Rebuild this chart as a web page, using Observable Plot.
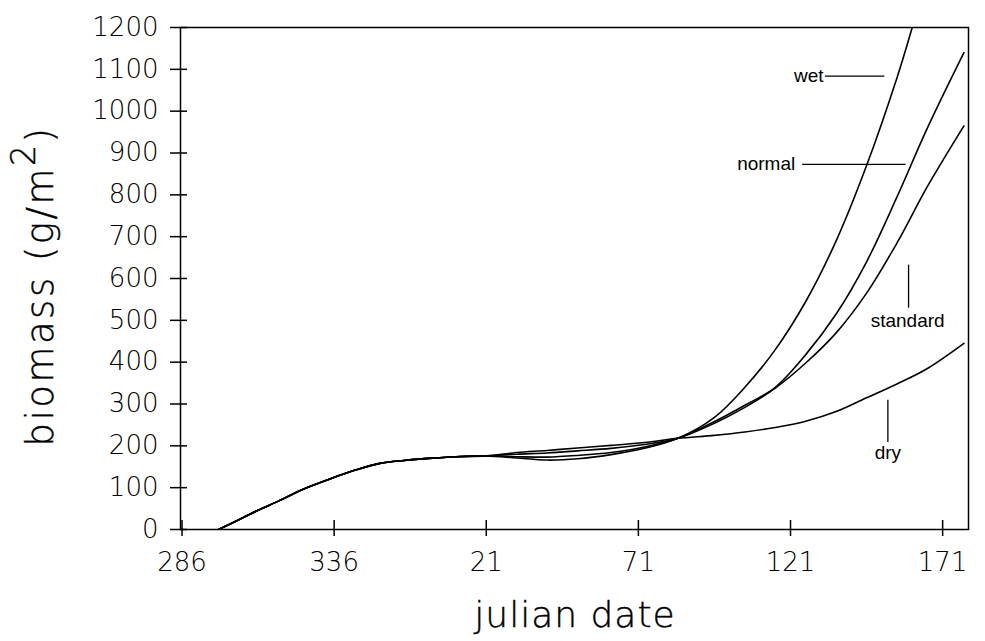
<!DOCTYPE html>
<html><head><meta charset="utf-8">
<script src="https://cdn.jsdelivr.net/npm/d3@7"></script>
<script src="https://cdn.jsdelivr.net/npm/@observablehq/plot@0.6"></script>
<style>
body{margin:0;background:#fff;}
#chart svg{display:block;}
</style></head><body><div id="chart"></div>
<script>
// julian date -> days since julian 286 (the season runs across the new year)
const START_JULIAN = 286, YEAR_DAYS = 365;
const dayIndex = j => (j - START_JULIAN + YEAR_DAYS) % YEAR_DAYS;

// sampling dates (julian)
const julian = [298, 306, 311, 318, 326, 335, 343, 351, 359, 2, 11, 21, 31, 41, 51, 62, 73, 84, 96, 106, 116, 126, 136, 146, 156, 166, 178];
const wetJulian = [298, 306, 311, 318, 326, 335, 343, 351, 359, 2, 11, 21, 31, 41, 51, 62, 73, 84, 96, 106, 116, 126, 136, 146, 156, 161];

// biomass (g/m2) per scenario
const dry      = [0, 28, 46, 69, 97, 122, 142, 158, 165, 170, 174, 176, 184, 189, 195, 201, 208, 218, 225, 233, 244, 259, 282, 315, 348, 385, 445];
const standard = [0, 28, 46, 69, 97, 122, 142, 158, 165, 170, 174, 176, 180, 183, 188, 194, 203, 218, 254, 292, 338, 398, 470, 565, 685, 820, 965];
const normal   = [0, 28, 46, 69, 97, 122, 142, 158, 165, 170, 174, 176, 174, 173, 177, 184, 197, 218, 258, 297, 340, 418, 515, 640, 795, 960, 1140];
const wet      = [0, 28, 46, 69, 97, 122, 142, 158, 165, 170, 174, 176, 171, 166, 169, 179, 194, 218, 268, 340, 430, 545, 690, 870, 1080, 1200];

// axes
const yTicks = [0, 100, 200, 300, 400, 500, 600, 700, 800, 900, 1000, 1100, 1200];
const xTickJulian = [286, 336, 21, 71, 121, 171];
const xTickLabels = ["286", "336", "21", "71", "121", "171"];

// curve labels (positions in days since 286 / biomass)
const labelText  = ["wet", "normal", "standard", "dry"];
const labelDay   = [206, 192, 238.5, 232];
const labelValue = [1084, 873, 498, 182];
const hLeaderValue = [1084, 873];
const hLeaderFrom  = [211.5, 204];
const hLeaderTo    = [231, 238];
const vLeaderDay   = [238.8, 232];
const vLeaderFrom  = [529, 208];
const vLeaderTo    = [632, 309];

const rows = [];
const addSeries = (name, dates, vals) => dates.forEach((j, i) => rows.push({series: name, x: dayIndex(j), y: vals[i]}));
addSeries("dry", julian, dry);
addSeries("standard", julian, standard);
addSeries("normal", julian, normal);
addSeries("wet", wetJulian, wet);

const xTickIdx = xTickJulian.map(dayIndex);
const labelByIdx = new Map(xTickIdx.map((d, i) => [d, xTickLabels[i]]));

const tickText = {fontSize: 26, fontWeight: 200, stroke: "black", strokeWidth: 0.8, label: null};

const svg = Plot.plot({
  width: 985, height: 641,
  marginLeft: 180, marginRight: 17, marginTop: 27, marginBottom: 112,
  x: {domain: [-0.5, 258.5]},
  y: {domain: [0, 1200]},
  style: {fontFamily: "DejaVu Sans", background: "white", color: "black"},
  marks: [
    Plot.axisY({ticks: yTicks, tickSize: 17, dx: 7, tickFormat: () => "", label: null, strokeWidth: 1.5}),
    Plot.axisY({ticks: yTicks, tickSize: 0, tickPadding: 22, tickFormat: d => String(d), ...tickText}),
    Plot.axisX({ticks: xTickIdx, tickSize: 16, dy: -9, tickFormat: () => "", label: null, strokeWidth: 1.5}),
    Plot.axisX({ticks: xTickIdx, tickSize: 0, tickPadding: 23, tickFormat: d => labelByIdx.get(d), ...tickText}),
    Plot.frame({stroke: "black", strokeWidth: 1.5}),
    Plot.line(rows, {x: "x", y: "y", z: "series", stroke: "black", strokeWidth: 1.6, curve: "catmull-rom", clip: true}),
    Plot.ruleY(hLeaderValue, {y: d => d, x1: (d, i) => hLeaderFrom[i], x2: (d, i) => hLeaderTo[i], stroke: "black", strokeWidth: 1.3}),
    Plot.ruleX(vLeaderDay, {x: d => d, y1: (d, i) => vLeaderFrom[i], y2: (d, i) => vLeaderTo[i], stroke: "black", strokeWidth: 1.3}),
    Plot.text(labelText, {x: (d, i) => labelDay[i], y: (d, i) => labelValue[i], text: d => d, fontFamily: "Liberation Sans", fontSize: 19, fill: "black"})
  ]
});

const s = d3.select(svg);
const yl = s.append("text")
  .attr("transform", "translate(53,286) rotate(-90)")
  .attr("text-anchor", "middle")
  .attr("font-family", "DejaVu Sans")
  .attr("font-weight", 200)
  .attr("font-size", 37)
  .attr("stroke", "black").attr("stroke-width", 0.4)
  .style("letter-spacing", "2.5px")
  .attr("fill", "black");
yl.append("tspan").text("biomass (g/m");
yl.append("tspan").attr("dy", -18).attr("font-size", 33).text("2");
yl.append("tspan").attr("dy", 18).text(")");

s.append("text")
  .attr("x", 575).attr("y", 627)
  .attr("text-anchor", "middle")
  .attr("font-family", "DejaVu Sans")
  .attr("font-weight", 200)
  .attr("font-size", 36)
  .attr("stroke", "black").attr("stroke-width", 0.4)
  .style("letter-spacing", "1px")
  .attr("fill", "black")
  .text("julian date");

document.getElementById("chart").appendChild(svg);
</script></body></html>
